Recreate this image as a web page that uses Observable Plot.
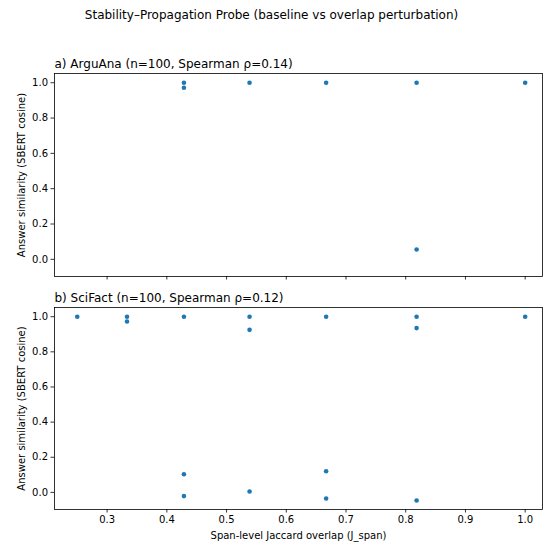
<!DOCTYPE html>
<html>
<head>
<meta charset="utf-8">
<script src="https://cdn.jsdelivr.net/npm/d3@7"></script>
<script src="https://cdn.jsdelivr.net/npm/@observablehq/plot@0.6"></script>
<style>
  html, body { margin: 0; padding: 0; background: #fff; }
  #wrap { position: relative; width: 543px; height: 542px; overflow: hidden; font-family: "DejaVu Sans", sans-serif; }
  #title { position: absolute; left: 0; top: 7px; width: 543px; text-align: center; font-size: 12px; line-height: 16px; color: #000; }
  #pa { position: absolute; left: 0; top: 0; }
  #pb { position: absolute; left: 0; top: 285px; }
</style>
</head>
<body>
<div id="wrap">
  <div id="pa"></div>
  <div id="pb"></div>
  <div id="title">Stability–Propagation Probe (baseline vs overlap perturbation)</div>
</div>
<script>
// ---- data ----
const suptitle = "Stability–Propagation Probe (baseline vs overlap perturbation)";
const titleA = "a) ArguAna (n=100, Spearman ρ=0.14)";
const titleB = "b) SciFact (n=100, Spearman ρ=0.12)";
const yLabel = "Answer similarity (SBERT cosine)";
const xLabel = "Span-level Jaccard overlap (J_span)";

const arguanaX = [0.4286, 0.4286, 0.5385, 0.6667, 0.8182, 0.8182, 1.0];
const arguanaY = [1.0, 0.972, 1.0, 1.0, 1.0, 0.056, 1.0];

const scifactX = [0.25, 0.3333, 0.3333, 0.4286, 0.4286, 0.4286, 0.5385, 0.5385, 0.5385,
                  0.6667, 0.6667, 0.6667, 0.8182, 0.8182, 0.8182, 1.0];
const scifactY = [1.0, 1.0, 0.973, 1.0, 0.103, -0.021, 1.0, 0.925, 0.005,
                  1.0, 0.120, -0.035, 1.0, 0.935, -0.046, 1.0];

const xTicks = [0.3, 0.4, 0.5, 0.6, 0.7, 0.8, 0.9, 1.0];
const yTicks = [0.0, 0.2, 0.4, 0.6, 0.8, 1.0];
const xDomain = [0.2119, 1.029];
const yDomain = [-0.0973, 1.0523];
const dotColor = "#1f77b4";

document.getElementById("title").textContent = suptitle;

const toRows = (xs, ys) => xs.map((x, i) => ({x, y: ys[i]}));
const style = {fontFamily: "DejaVu Sans, sans-serif", fontSize: "10px", color: "#000", background: "#fff", overflow: "visible"};

function panel(rows, title, opts) {
  return Plot.plot({
    width: 543,
    height: opts.height,
    marginLeft: 54,
    marginRight: 1,
    marginTop: opts.marginTop,
    marginBottom: opts.marginBottom,
    style,
    x: {domain: xDomain, label: null},
    y: {domain: yDomain, label: null},
    marks: [
      Plot.axisY({ticks: yTicks, tickFormat: d => d.toFixed(1), tickSize: 3.5, tickPadding: 3, strokeWidth: 0.8, label: null}),
      Plot.axisX({ticks: xTicks, tickFormat: opts.xLabels ? (d => d.toFixed(1)) : (() => ""), tickSize: 3.5, tickPadding: 3, strokeWidth: 0.8, label: null}),
      Plot.dot(rows, {x: "x", y: "y", r: 2.3, fill: dotColor, stroke: null}),
      Plot.frame({stroke: "#000", strokeWidth: 0.8}),
      Plot.text([title], {text: d => d, frameAnchor: "top-left", textAnchor: "start", lineAnchor: "bottom", dy: -6, fontSize: 12}),
      Plot.text([yLabel], {text: d => d, frameAnchor: "left", textAnchor: "middle", lineAnchor: "middle", rotate: -90, dx: -33, fontSize: 10}),
      ...(opts.xLabels ? [Plot.text([xLabel], {text: d => d, frameAnchor: "bottom", textAnchor: "middle", lineAnchor: "middle", dy: 26, fontSize: 10})] : [])
    ]
  });
}

document.getElementById("pa").append(panel(toRows(arguanaX, arguanaY), titleA, {height: 285, marginTop: 73, marginBottom: 9, xLabels: false}));
document.getElementById("pb").append(panel(toRows(scifactX, scifactY), titleB, {height: 257, marginTop: 22, marginBottom: 33, xLabels: true}));
</script>
</body>
</html>
